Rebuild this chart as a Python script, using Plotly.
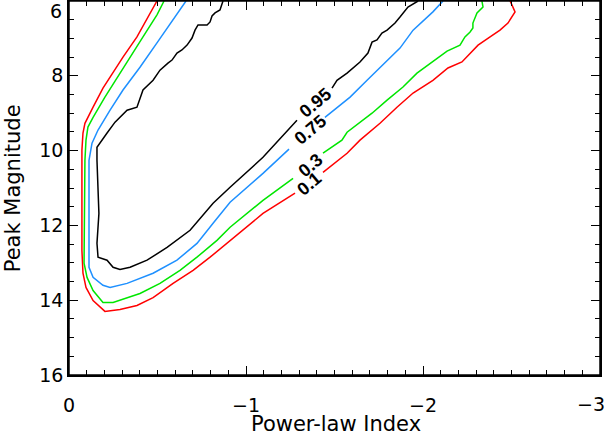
import plotly.graph_objects as go

# contour paths (power-law index, peak magnitude)
# None marks the break where the level label sits

lvl_01_x = [-0.497, -0.458, -0.384, -0.305, -0.249, -0.192, -0.136, -0.107, -0.090, -0.079,
            -0.073, -0.073, -0.079, -0.096, -0.136, -0.203, -0.288, -0.384, -0.475, -0.588,
            -0.701, -0.797, -0.893, -0.910, -1.096, -1.277, None,
            -1.435, -1.571, -1.644, -1.757, -1.853, -1.944, -2.056, -2.141, -2.220, -2.311,
            -2.379, -2.435, -2.480, -2.520, -2.503, -2.492]
lvl_01_y = [6.00, 6.32, 6.96, 7.50, 7.93, 8.33, 8.84, 9.13, 9.27, 9.53,
            9.99, 12.67, 13.28, 13.66, 14.01, 14.30, 14.25, 14.14, 13.93, 13.55,
            13.20, 12.85, 12.48, 12.40, 11.68, 11.14, None,
            10.58, 10.07, 9.72, 9.27, 8.84, 8.46, 8.12, 7.79, 7.63, 7.18,
            6.96, 6.78, 6.59, 6.29, 6.11, 6.00]

lvl_03_x = [-0.537, -0.497, -0.418, -0.345, -0.271, -0.203, -0.136, -0.107, -0.096, -0.090,
            -0.085, -0.102, -0.136, -0.192, -0.249, -0.401, -0.514, -0.627, -0.723, -0.836,
            -0.910, -1.096, -1.266, None,
            -1.435, -1.542, -1.571, -1.644, -1.712, -1.797, -1.887, -1.966, -2.056, -2.136,
            -2.209, -2.237, -2.266, -2.282, -2.282, -2.305, -2.339, -2.333]
lvl_03_y = [6.00, 6.37, 6.96, 7.50, 8.03, 8.57, 9.11, 9.37, 9.72, 10.26,
            13.01, 13.39, 13.74, 14.06, 14.06, 13.82, 13.55, 13.20, 12.85, 12.40,
            12.05, 11.33, 10.74, None,
            10.07, 9.72, 9.51, 9.24, 9.00, 8.65, 8.30, 7.93, 7.63, 7.34,
            7.18, 6.96, 6.83, 6.72, 6.59, 6.32, 6.16, 6.00]

lvl_075_x = [-0.661, -0.588, -0.497, -0.401, -0.305, -0.232, -0.164, -0.130, -0.113, -0.113,
             -0.136, -0.192, -0.232, -0.328, -0.475, -0.610, -0.723, -0.814, -0.910, -1.096,
             -1.243, None,
             -1.446, -1.514, -1.588, -1.684, -1.774, -1.870, -1.944, -2.023, -2.056, -2.113]
lvl_075_y = [6.00, 6.51, 7.12, 7.77, 8.38, 8.92, 9.45, 9.80, 10.26, 13.12,
             13.39, 13.60, 13.66, 13.55, 13.28, 12.93, 12.48, 11.94, 11.38, 10.61,
             9.96, None,
             9.11, 8.84, 8.57, 8.12, 7.71, 7.26, 6.78, 6.43, 6.29, 6.00]

lvl_095_x = [-0.870, -0.853, -0.825, -0.808, -0.797, -0.780, -0.729, -0.712, -0.695, -0.667,
             -0.638, -0.610, -0.582, -0.559, -0.514, -0.475, -0.418, -0.384, -0.328, -0.260,
             -0.215, -0.175, -0.158, -0.158, -0.164, -0.169, -0.158, -0.164, -0.215, -0.249,
             -0.288, -0.345, -0.441, -0.554, -0.684, -0.814, -0.910, -1.096, -1.288, None,
             -1.486, -1.514, -1.571, -1.644, -1.689, -1.712, -1.740, -1.768, -1.797, -1.842,
             -1.870, -1.915, -1.972]
lvl_095_y = [6.00, 6.24, 6.32, 6.40, 6.56, 6.64, 6.64, 6.78, 6.99, 7.18,
             7.31, 7.39, 7.58, 7.66, 7.85, 8.12, 8.38, 8.84, 8.92, 9.24,
             9.53, 9.78, 9.91, 10.26, 10.87, 11.68, 12.48, 12.85, 12.93, 13.12,
             13.18, 13.12, 12.93, 12.59, 12.13, 11.41, 10.98, 10.18, 9.19, None,
             8.33, 8.12, 7.93, 7.63, 7.39, 7.10, 7.04, 6.86, 6.78, 6.59,
             6.43, 6.16, 6.00]

levels = ["0.1", "0.3", "0.75", "0.95"]
level_colors = ["#ff0000", "#00e600", "#1e90ff", "#000000"]
label_x = [-1.356, -1.367, -1.362, -1.390]
label_y = [10.90, 10.39, 9.45, 8.73]

x_tickvals = [0, -1, -2, -3]
x_ticktext = ["0", "\u22121", "\u22122", "\u22123"]
y_tickvals = [6, 8, 10, 12, 14, 16]
y_ticktext = ["6", "8", "10", "12", "14", "16"]

paths = [(lvl_01_x, lvl_01_y), (lvl_03_x, lvl_03_y),
         (lvl_075_x, lvl_075_y), (lvl_095_x, lvl_095_y)]

fig = go.Figure()
for i, ((px, py), name, c) in enumerate(zip(paths, levels, level_colors)):
    # last level goes on the twin axes so the top/right axes get a subplot to draw on
    twin = i == len(paths) - 1
    fig.add_trace(go.Scatter(x=px, y=py, mode="lines", name=name,
                             xaxis="x2" if twin else "x", yaxis="y2" if twin else "y",
                             line=dict(color=c, width=1.5), connectgaps=False))

for name, lx, ly in zip(levels, label_x, label_y):
    fig.add_annotation(x=lx, y=ly, text="<b>" + name + "</b>", showarrow=False,
                       textangle=-40, font=dict(family="Liberation Sans", size=18, color="black"))

axis_font = dict(family="DejaVu Sans", size=19, color="black")

# the edge labels (top "6", right "-3") would spill out of the page, so they are
# pulled inside by hand; the rest come from the axes
fig.add_annotation(xref="paper", x=0, y=y_tickvals[0], xanchor="right", yanchor="top",
                   xshift=-5, yshift=3, text=y_ticktext[0], showarrow=False, font=axis_font)
fig.add_annotation(x=x_tickvals[-1], yref="paper", y=0, xanchor="right", yanchor="top",
                   xshift=7, yshift=-16, text=x_ticktext[-1], showarrow=False, font=axis_font)

# axis titles placed by hand so the frame stays where it is
title_font = dict(family="DejaVu Sans", size=21, color="black")
fig.add_annotation(xref="paper", yref="paper", x=0.503, y=-0.168, yanchor="bottom",
                   text="Power-law Index", showarrow=False, font=title_font)
fig.add_annotation(xref="paper", yref="paper", x=-0.105, y=0.5, xanchor="center",
                   textangle=-90, text="Peak Magnitude", showarrow=False, font=title_font)

# plain box round the plot area
fig.add_shape(type="rect", xref="paper", yref="paper", x0=0, x1=1, y0=0, y1=1,
              line=dict(color="black", width=1.5), layer="above")

frame = dict(showgrid=False, zeroline=False, showline=True, linecolor="black", linewidth=1.5,
             ticks="inside", ticklen=9, tickwidth=1.2, tickcolor="black", automargin=False)
x_minor = dict(dtick=0.1, ticks="inside", ticklen=5, tickcolor="black", tickwidth=1)
y_minor = dict(dtick=0.5, ticks="inside", ticklen=5, tickcolor="black", tickwidth=1)

fig.update_layout(
    xaxis=dict(range=[0, -3], tickvals=x_tickvals, ticktext=x_ticktext[:-1] + [""],
               minor=x_minor, tickfont=axis_font, ticklabelstandoff=12, **frame),
    yaxis=dict(range=[16, 6], tickvals=y_tickvals, ticktext=[""] + y_ticktext[1:],
               minor=y_minor, tickfont=axis_font, ticklabelstandoff=0, **frame),
    # top and right edges of the box, ticks only
    xaxis2=dict(range=[0, -3], tickvals=x_tickvals, overlaying="x", side="top", anchor="y2",
                showticklabels=False, minor=x_minor, **frame),
    yaxis2=dict(range=[16, 6], tickvals=y_tickvals, overlaying="y", side="right", anchor="x2",
                showticklabels=False, minor=y_minor, **frame),
    width=606, height=435, showlegend=False,
    plot_bgcolor="white", paper_bgcolor="white",
    margin=dict(l=69, r=6, t=1, b=60, pad=0),
)

# drop the page's default body margin so the figure sits at the window corner
fig.write_html("out.html", config={"displayModeBar": False},
               post_script="document.body.style.margin='0';")
